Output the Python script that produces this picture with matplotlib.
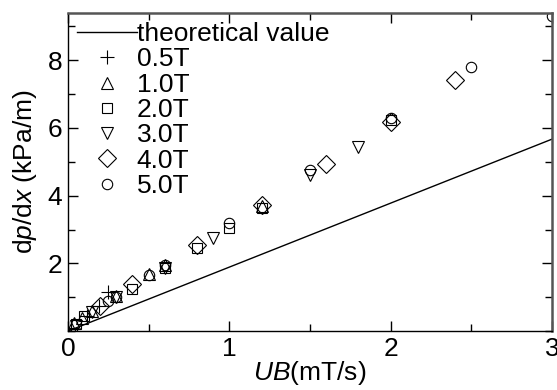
import numpy as np
import matplotlib
matplotlib.use('Agg')
import matplotlib.pyplot as plt
from matplotlib.ticker import MultipleLocator

plt.rcParams['font.family'] = ['Liberation Sans', 'DejaVu Sans']
plt.rcParams['mathtext.fontset'] = 'custom'
plt.rcParams['mathtext.it'] = 'Liberation Sans:italic'
plt.rcParams['mathtext.rm'] = 'Liberation Sans'

# measured data, UB (mT/s) vs dp/dx (kPa/m)
x_05 = [0.02, 0.12, 0.19, 0.25]
y_05 = [0.08, 0.45, 0.75, 1.15]
x_10 = [0.04, 0.09, 0.15, 0.30, 0.50, 0.60, 1.20]
y_10 = [0.25, 0.40, 0.60, 1.05, 1.70, 1.95, 3.70]
x_20 = [0.05, 0.10, 0.40, 0.60, 0.80, 1.00, 1.20, 2.00]
y_20 = [0.20, 0.45, 1.25, 1.85, 2.45, 3.05, 3.65, 6.25]
x_30 = [0.05, 0.15, 0.30, 0.60, 0.90, 1.50, 1.80]
y_30 = [0.15, 0.55, 1.00, 1.85, 2.75, 4.60, 5.45]
x_40 = [0.20, 0.40, 0.80, 1.20, 1.60, 2.00, 2.40]
y_40 = [0.75, 1.38, 2.55, 3.72, 4.95, 6.18, 7.42]
x_50 = [0.25, 0.30, 0.50, 0.60, 1.00, 1.50, 2.00, 2.50, 3.00]
y_50 = [0.90, 1.00, 1.65, 1.95, 3.20, 4.75, 6.30, 7.80, 9.30]

# theoretical line
x_th = [0.0, 3.0]
y_th = [0.0, 5.67]

fs = 19

fig = plt.figure(figsize=(5.57, 3.9), dpi=100)
ax = fig.add_axes([0.122, 0.151, 0.869, 0.816])

ax.plot(x_th, y_th, color='black', lw=1.0, label='theoretical value')

mk = dict(linestyle='none', mfc='none', mec='black', mew=0.8)
ax.plot(x_05, y_05, marker='+', ms=10, label='0.5T', **mk)
ax.plot(x_10, y_10, marker='^', ms=8.5, label='1.0T', **mk)
ax.plot(x_20, y_20, marker='s', ms=6.5, label='2.0T', **mk)
ax.plot(x_30, y_30, marker='v', ms=8.5, label='3.0T', **mk)
ax.plot(x_40, y_40, marker='D', ms=9, label='4.0T', **mk)
ax.plot(x_50, y_50, marker='o', ms=7.5, label='5.0T', **mk)

ax.set_xlim(0, 3)
ax.set_ylim(0, 9.4)
ax.xaxis.set_major_locator(MultipleLocator(1))
ax.xaxis.set_minor_locator(MultipleLocator(0.5))
ax.yaxis.set_major_locator(MultipleLocator(2))
ax.yaxis.set_minor_locator(MultipleLocator(1))
ax.set_yticks([2, 4, 6, 8])
ax.tick_params(which='both', direction='in', top=True, right=True, labelsize=fs)
ax.tick_params(which='major', length=7, width=1, pad=4)
ax.tick_params(which='minor', length=5, width=1)

for s in ['top', 'right']:
    ax.spines[s].set_color('#555555')
    ax.spines[s].set_linewidth(1.8)
for s in ['left', 'bottom']:
    ax.spines[s].set_linewidth(1.0)

ax.set_xlabel(r'$\it{UB}$(mT/s)', fontsize=fs, labelpad=-1)
ax.set_ylabel(r'd$\it{p}$/d$\it{x}$ (kPa/m)', fontsize=fs, labelpad=6)

ax.legend(loc='upper left', frameon=False, fontsize=fs, handlelength=2.25,
          handletextpad=0.0, labelspacing=0.05, borderaxespad=0.15,
          borderpad=0.2)

fig.savefig('out.png', dpi=100)
